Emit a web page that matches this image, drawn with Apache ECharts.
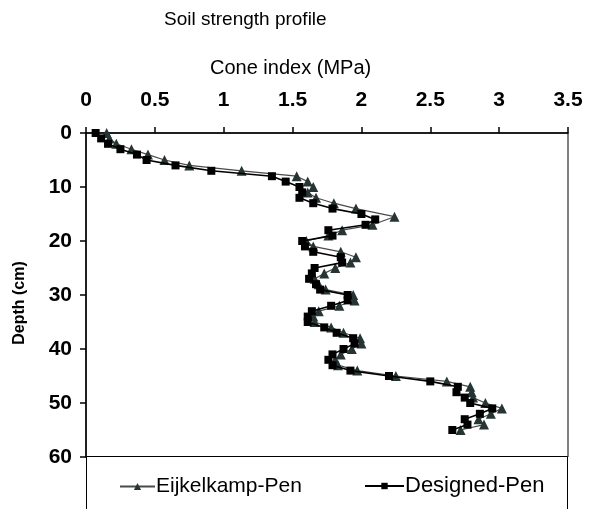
<!DOCTYPE html>
<html>
<head>
<meta charset="utf-8">
<title>Soil strength profile</title>
<script src="https://cdn.jsdelivr.net/npm/echarts@6/dist/echarts.min.js"></script>
<style>
html, body { margin: 0; padding: 0; background: #fff; }
#chart { width: 591px; height: 509px; }
</style>
</head>
<body>
<div id="chart"></div>
<script>
// cone index ticks (MPa) and depth ticks (cm)
const xTicks = [0, 0.5, 1, 1.5, 2, 2.5, 3, 3.5]
const yTicks = [0, 10, 20, 30, 40, 50, 60]

// Eijkelkamp penetrometer
const eijDepth = [0, 1, 2, 3, 4, 5, 6, 7, 8, 9, 10, 11, 12, 13, 14, 15.5,
    17, 18, 19, 20, 21, 22, 23, 24, 25, 26, 27, 28, 29, 30, 31, 32, 33, 34, 35,
    36, 37, 38, 39, 40, 41, 42, 43, 44, 45, 46, 47, 48, 49, 50, 51, 52, 53, 54, 55]
const eijValue = [0.15, 0.17, 0.22, 0.33, 0.45, 0.57, 0.75, 1.13, 1.53, 1.61, 1.65, 1.61, 1.67, 1.80, 1.96, 2.24,
    2.08, 1.86, 1.76, 1.60, 1.65, 1.85, 1.96, 1.92, 1.81, 1.73, 1.66, 1.69, 1.74, 1.94, 1.95, 1.84, 1.69, 1.65, 1.66,
    1.78, 1.87, 1.99, 2.00, 1.93, 1.85, 1.81, 1.83, 1.97, 2.25, 2.62, 2.79, 2.80, 2.81, 2.90, 3.02, 2.94, 2.85, 2.89, 2.72]

// designed penetrometer
const desDepth = [0, 1, 2, 3, 4, 5, 6, 7, 8, 9, 10, 11, 12, 13, 14, 15, 16, 17, 18, 19,
    20, 21, 22, 23, 24, 25, 26, 27, 28, 29, 30, 31, 32, 33, 34, 35, 36, 37, 38, 39,
    40, 41, 42, 43, 44, 45, 46, 47, 48, 49, 50, 51, 52, 53, 54, 55]
const desValue = [0.07, 0.11, 0.16, 0.25, 0.37, 0.44, 0.65, 0.91, 1.35, 1.45, 1.55, 1.57, 1.55, 1.65, 1.79, 2.00, 2.10, 2.03, 1.76, 1.79,
    1.57, 1.59, 1.65, 1.85, 1.86, 1.66, 1.64, 1.62, 1.67, 1.70, 1.90, 1.90, 1.78, 1.64, 1.61, 1.61, 1.73, 1.82, 1.94, 1.95,
    1.87, 1.79, 1.76, 1.79, 1.92, 2.20, 2.50, 2.70, 2.69, 2.75, 2.79, 2.95, 2.86, 2.75, 2.77, 2.66]

const pairs = (vals, depths) => vals.map((v, i) => [v, depths[i]])

const chart = echarts.init(document.getElementById('chart'))
chart.setOption({
    animation: false,
    textStyle: { fontFamily: 'Liberation Sans, Arial, sans-serif' },
    title: [
        {
            text: 'Soil strength profile',
            left: 159,
            top: 5,
            textStyle: { fontSize: 19, fontWeight: 'normal', color: '#000' }
        },
        {
            text: 'Cone index (MPa)',
            left: 205,
            top: 53,
            textStyle: { fontSize: 20, fontWeight: 'normal', color: '#000' }
        }
    ],
    graphic: [
        {
            type: 'rect',
            shape: { x: 86.5, y: 456.5, width: 481, height: 60 },
            style: { fill: '#fff', stroke: '#000', lineWidth: 1 },
            z: 0
        },
        {
            type: 'text',
            x: 20,
            y: 303,
            rotation: Math.PI / 2,
            style: {
                text: 'Depth (cm)',
                fontSize: 16,
                fontWeight: 'bold',
                fontFamily: 'Liberation Sans, Arial, sans-serif',
                fill: '#000',
                align: 'center',
                verticalAlign: 'middle'
            }
        }
    ],
    grid: {
        left: 86,
        right: 23,
        top: 133,
        bottom: 52,
        show: true,
        borderColor: '#000',
        borderWidth: 1
    },
    legend: [
        {
            data: ['Eijkelkamp-Pen'],
            left: 114,
            top: 471,
            itemWidth: 35,
            itemHeight: 9,
            itemGap: 2,
            textStyle: { fontSize: 21, color: '#000', padding: [0, 0, 0, -4] }
        },
        {
            data: ['Designed-Pen'],
            left: 359,
            top: 470,
            itemWidth: 39,
            itemHeight: 8,
            textStyle: { fontSize: 22, color: '#000', padding: [0, 0, 0, -4] }
        }
    ],
    xAxis: {
        type: 'value',
        position: 'top',
        min: 0,
        max: 3.5,
        interval: 0.5,
        axisLine: { show: true, lineStyle: { color: '#000', width: 1.5 } },
        axisTick: { show: true, inside: false, length: 6, lineStyle: { color: '#000', width: 1.5 } },
        axisLabel: {
            margin: 22,
            fontSize: 21,
            fontWeight: 'bold',
            color: '#000',
            formatter: v => (xTicks.indexOf(v) >= 0 ? String(v) : '')
        },
        splitLine: { show: false }
    },
    yAxis: {
        type: 'value',
        inverse: true,
        min: 0,
        max: 60,
        interval: 10,
        axisLine: { show: true, lineStyle: { color: '#000', width: 1.5 } },
        axisTick: { show: true, inside: false, length: 6, lineStyle: { color: '#000', width: 1.5 } },
        axisLabel: {
            margin: 14,
            fontSize: 21,
            fontWeight: 'bold',
            color: '#000',
            formatter: v => (yTicks.indexOf(v) >= 0 ? String(v) : '')
        },
        splitLine: { show: false }
    },
    series: [
        {
            name: 'Eijkelkamp-Pen',
            type: 'line',
            data: pairs(eijValue, eijDepth),
            symbol: 'triangle',
            symbolSize: 10,
            lineStyle: { color: '#4a4a4a', width: 1.2 },
            itemStyle: { color: '#263434', borderWidth: 0 },
            z: 2
        },
        {
            name: 'Designed-Pen',
            type: 'line',
            data: pairs(desValue, desDepth),
            symbol: 'rect',
            symbolSize: 8,
            lineStyle: { color: '#000', width: 1.6 },
            itemStyle: { color: '#000', borderWidth: 0 },
            z: 3
        }
    ]
})
</script>
</body>
</html>
